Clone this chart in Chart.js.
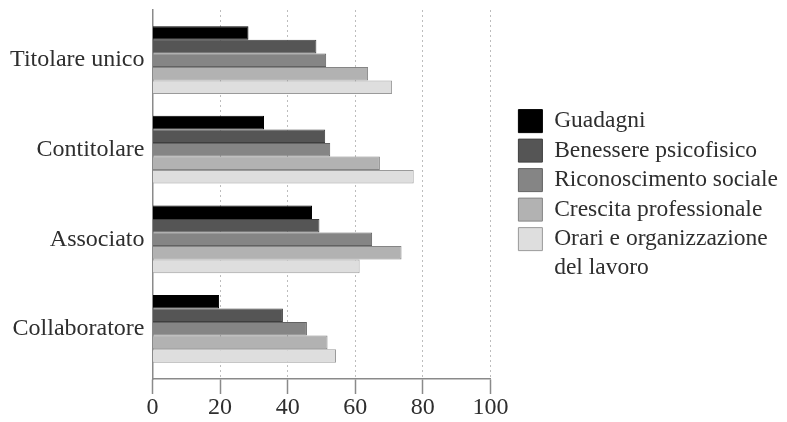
<!DOCTYPE html>
<html>
<head>
<meta charset="utf-8">
<script src="https://cdn.jsdelivr.net/npm/chart.js@4/dist/chart.umd.min.js"></script>
<style>
  html, body { margin: 0; padding: 0; background: #fff; }
  #wrap { width: 787px; height: 422px; position: relative; }
</style>
</head>
<body>
<div id="wrap"><canvas id="c"></canvas></div>
<script>
const categories = ['Titolare unico', 'Contitolare', 'Associato', 'Collaboratore'];
const seriesNames = ['Guadagni', 'Benessere psicofisico', 'Riconoscimento sociale', 'Crescita professionale', 'Orari e organizzazione del lavoro'];
const legendLines = [['Guadagni'], ['Benessere psicofisico'], ['Riconoscimento sociale'], ['Crescita professionale'], ['Orari e organizzazione', 'del lavoro']];
const guadagni = [28.4, 33.0, 47.2, 19.7];
const benessere = [48.5, 51.1, 49.4, 38.6];
const riconoscimento = [51.4, 52.6, 65.0, 45.7];
const crescita = [63.8, 67.3, 73.7, 51.8];
const orari = [70.9, 77.3, 61.3, 54.3];
const xTicks = [0, 20, 40, 60, 80, 100];

const fills = ['#000000', '#555555', '#858585', '#b2b2b2', '#dedede'];
const borders = ['#000000', '#3e3e3e', '#626262', '#858585', '#9a9a9a'];
const values = [guadagni, benessere, riconoscimento, crescita, orari];

const FONT = "'Liberation Serif', 'Times New Roman', serif";
const TEXT = '#2e2e2e';

const datasets = seriesNames.map((name, i) => ({
  label: name,
  data: values[i],
  backgroundColor: fills[i],
  borderColor: borders[i],
  borderWidth: 1,
  categoryPercentage: 0.756,
  barPercentage: 1.0
}));

new Chart(document.getElementById('c'), {
  type: 'bar',
  data: { labels: categories, datasets },
  options: {
    indexAxis: 'y',
    responsive: true,
    maintainAspectRatio: false,
    animation: false,
    layout: { padding: { top: 10, right: -1, bottom: 0, left: 0 } },
    plugins: {
      tooltip: { enabled: false },
      legend: {
        position: 'right',
        align: 'center',
        fullSize: false,
        maxWidth: 320,
        title: { display: true, text: '', padding: 0, font: { size: 5, lineHeight: 1.2 } },
        labels: {
          boxWidth: 24,
          boxHeight: 23,
          padding: 6,
          color: TEXT,
          font: { family: FONT, size: 23.5, lineHeight: 1.24 },
          generateLabels(chart) {
            const items = Chart.defaults.plugins.legend.labels.generateLabels(chart);
            items.forEach((it, i) => { it.text = legendLines[i].length > 1 ? legendLines[i] : legendLines[i][0]; });
            return items;
          }
        }
      }
    },
    scales: {
      x: {
        type: 'linear',
        min: 0,
        max: 100,
        afterBuildTicks(scale) { scale.ticks = xTicks.map(v => ({ value: v })); },
        grid: {
          color: '#bdbdbd',
          lineWidth: 1,
          tickColor: '#8a8a8a',
          tickLength: 15,
          tickWidth: 1.5,
          tickBorderDash: []
        },
        border: { color: '#8a8a8a', width: 1.5, dash: [2, 3] },
        ticks: {
          color: TEXT,
          padding: 2,
          font: { family: FONT, size: 24, lineHeight: 1.0 }
        }
      },
      y: {
        type: 'category',
        offset: true,
        afterBuildTicks(scale) { scale._startValue -= 0.06; scale._valueRange += 0.12; },
        afterFit(scale) { scale.width = 152.5; scale.paddingTop = 0; scale.paddingBottom = 0; },
        grid: { display: false, drawTicks: false },
        border: { color: '#8a8a8a', width: 1.5 },
        ticks: {
          color: TEXT,
          padding: 8,
          font: { family: FONT, size: 24 }
        }
      },
      gap: {
        type: 'linear',
        axis: 'y',
        position: 'right',
        grid: { display: false, drawTicks: false },
        border: { display: false },
        ticks: { display: false },
        afterFit(scale) { scale.width = 22; scale.paddingTop = 0; scale.paddingBottom = 0; }
      }
    }
  }
});
</script>
</body>
</html>
